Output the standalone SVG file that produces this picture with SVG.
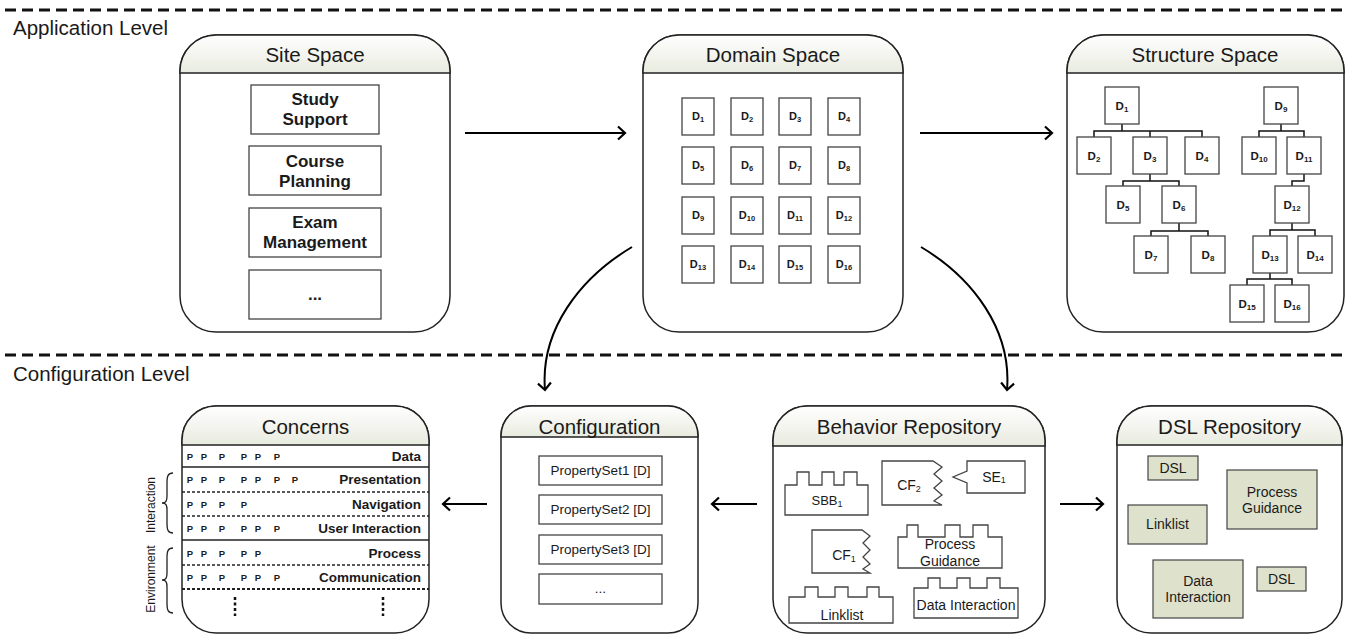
<svg xmlns="http://www.w3.org/2000/svg" width="1347" height="635" viewBox="0 0 1347 635">
<defs>
<linearGradient id="hdr" x1="0" y1="0" x2="0" y2="1"><stop offset="0" stop-color="#ffffff"/><stop offset="1" stop-color="#e8ebdf"/></linearGradient>
<marker id="arr" markerUnits="userSpaceOnUse" markerWidth="12" markerHeight="16" viewBox="0 0 12 16" refX="9" refY="8" orient="auto"><path d="M2,1.5 L9,8 L2,14.5" fill="none" stroke="#000" stroke-width="2.2"/></marker>
</defs>
<style>
text{font-family:"Liberation Sans",Arial,sans-serif;fill:#1a1a1a}
.lvl{font-size:20.5px}
.ttl{font-size:20.5px;text-anchor:middle}
.box{fill:#fff;stroke:#222;stroke-width:1.5}
.hdr{fill:url(#hdr);stroke:#222;stroke-width:1.5}
.ib{fill:#fff;stroke:#444;stroke-width:1.3}
.bt{font-size:17px;font-weight:bold;text-anchor:middle}
.d{font-size:11px;font-weight:bold;text-anchor:middle}
.ds{font-size:11.5px;font-weight:bold;text-anchor:middle}
.rt{font-size:14px;text-anchor:middle}
.p{font-size:9.5px;font-weight:bold;text-anchor:middle}
.lab{font-size:13.5px;font-weight:bold;text-anchor:end}
.side{font-size:12px;text-anchor:middle}
.conn{fill:none;stroke:#000;stroke-width:2.2}
.tree{fill:none;stroke:#111;stroke-width:1.5}
.dsl{fill:#dee2cd;stroke:#444;stroke-width:1.2}
.sol{stroke:#222;stroke-width:1.3}
.dsh{stroke:#222;stroke-width:1.3;stroke-dasharray:3 2}
.lvline{stroke:#111;stroke-width:3;stroke-dasharray:11 6}
.brace{fill:none;stroke:#222;stroke-width:1.3}
</style>

<g id="levels">
<line class="lvline" x1="5" y1="10" x2="1347" y2="10"/>
<line class="lvline" x1="5" y1="355" x2="1347" y2="355"/>
<text class="lvl" x="13" y="35">Application Level</text>
<text class="lvl" x="13" y="381">Configuration Level</text>
</g>

<g id="site-space">
<rect class="box" x="180" y="35" width="270" height="297" rx="36"/>
<path class="hdr" d="M180,73 V71 A36,36 0 0 1 216,35 H414 A36,36 0 0 1 450,71 V73 Z"/>
<text class="ttl" x="315" y="62">Site Space</text>
<rect class="ib" x="251" y="85" width="128" height="49"/>
<text class="bt" x="315" y="105">Study</text><text class="bt" x="315" y="125">Support</text>
<rect class="ib" x="249" y="146" width="132" height="49"/>
<text class="bt" x="315" y="167">Course</text><text class="bt" x="315" y="187">Planning</text>
<rect class="ib" x="249" y="208" width="132" height="49"/>
<text class="bt" x="315" y="228">Exam</text><text class="bt" x="315" y="248">Management</text>
<rect class="ib" x="249" y="270" width="132" height="49"/>
<text class="bt" x="315" y="300">...</text>
</g>

<g id="domain-space">
<rect class="box" x="643" y="35" width="260" height="297" rx="36"/>
<path class="hdr" d="M643,73 V71 A36,36 0 0 1 679,35 H867 A36,36 0 0 1 903,71 V73 Z"/>
<text class="ttl" x="773" y="62">Domain Space</text>
<rect class="ib" x="682" y="98" width="32" height="37"/><text class="d" x="698" y="120">D<tspan font-size="7.5" dy="2">1</tspan></text>
<rect class="ib" x="731" y="98" width="32" height="37"/><text class="d" x="747" y="120">D<tspan font-size="7.5" dy="2">2</tspan></text>
<rect class="ib" x="779" y="98" width="32" height="37"/><text class="d" x="795" y="120">D<tspan font-size="7.5" dy="2">3</tspan></text>
<rect class="ib" x="828" y="98" width="32" height="37"/><text class="d" x="844" y="120">D<tspan font-size="7.5" dy="2">4</tspan></text>
<rect class="ib" x="682" y="147" width="32" height="37"/><text class="d" x="698" y="169">D<tspan font-size="7.5" dy="2">5</tspan></text>
<rect class="ib" x="731" y="147" width="32" height="37"/><text class="d" x="747" y="169">D<tspan font-size="7.5" dy="2">6</tspan></text>
<rect class="ib" x="779" y="147" width="32" height="37"/><text class="d" x="795" y="169">D<tspan font-size="7.5" dy="2">7</tspan></text>
<rect class="ib" x="828" y="147" width="32" height="37"/><text class="d" x="844" y="169">D<tspan font-size="7.5" dy="2">8</tspan></text>
<rect class="ib" x="682" y="197" width="32" height="37"/><text class="d" x="698" y="219">D<tspan font-size="7.5" dy="2">9</tspan></text>
<rect class="ib" x="731" y="197" width="32" height="37"/><text class="d" x="747" y="219">D<tspan font-size="7.5" dy="2">10</tspan></text>
<rect class="ib" x="779" y="197" width="32" height="37"/><text class="d" x="795" y="219">D<tspan font-size="7.5" dy="2">11</tspan></text>
<rect class="ib" x="828" y="197" width="32" height="37"/><text class="d" x="844" y="219">D<tspan font-size="7.5" dy="2">12</tspan></text>
<rect class="ib" x="682" y="246" width="32" height="37"/><text class="d" x="698" y="268">D<tspan font-size="7.5" dy="2">13</tspan></text>
<rect class="ib" x="731" y="246" width="32" height="37"/><text class="d" x="747" y="268">D<tspan font-size="7.5" dy="2">14</tspan></text>
<rect class="ib" x="779" y="246" width="32" height="37"/><text class="d" x="795" y="268">D<tspan font-size="7.5" dy="2">15</tspan></text>
<rect class="ib" x="828" y="246" width="32" height="37"/><text class="d" x="844" y="268">D<tspan font-size="7.5" dy="2">16</tspan></text>
</g>

<g id="structure-space">
<rect class="box" x="1067" y="35" width="277" height="297" rx="36"/>
<path class="hdr" d="M1067,73 V71 A36,36 0 0 1 1103,35 H1308 A36,36 0 0 1 1344,71 V73 Z"/>
<text class="ttl" x="1205" y="62">Structure Space</text>
<path class="tree" d="M1122,124 V131 M1094,137 V131 H1202 V137 M1150,131 V137
 M1150,173 V181 M1123,186 V181 H1179 V186
 M1179,223 V231 M1151,236 V231 H1208 V236
 M1281,124 V131 M1259,137 V131 H1304 V137
 M1304,173 V181 H1292 V186
 M1292,223 V230 M1270,236 V230 H1315 V236
 M1270,273 V279 M1247,285 V279 H1292 V285"/>
<rect class="ib" x="1105" y="87" width="34" height="37"/><text class="ds" x="1122" y="110">D<tspan font-size="8" dy="2">1</tspan></text>
<rect class="ib" x="1077" y="137" width="34" height="37"/><text class="ds" x="1094" y="160">D<tspan font-size="8" dy="2">2</tspan></text>
<rect class="ib" x="1133" y="137" width="34" height="37"/><text class="ds" x="1150" y="160">D<tspan font-size="8" dy="2">3</tspan></text>
<rect class="ib" x="1185" y="137" width="34" height="37"/><text class="ds" x="1202" y="160">D<tspan font-size="8" dy="2">4</tspan></text>
<rect class="ib" x="1106" y="186" width="34" height="37"/><text class="ds" x="1123" y="209">D<tspan font-size="8" dy="2">5</tspan></text>
<rect class="ib" x="1162" y="186" width="34" height="37"/><text class="ds" x="1179" y="209">D<tspan font-size="8" dy="2">6</tspan></text>
<rect class="ib" x="1134" y="236" width="34" height="37"/><text class="ds" x="1151" y="259">D<tspan font-size="8" dy="2">7</tspan></text>
<rect class="ib" x="1191" y="236" width="34" height="37"/><text class="ds" x="1208" y="259">D<tspan font-size="8" dy="2">8</tspan></text>
<rect class="ib" x="1264" y="87" width="34" height="37"/><text class="ds" x="1281" y="110">D<tspan font-size="8" dy="2">9</tspan></text>
<rect class="ib" x="1242" y="137" width="34" height="37"/><text class="ds" x="1259" y="160">D<tspan font-size="8" dy="2">10</tspan></text>
<rect class="ib" x="1287" y="137" width="34" height="37"/><text class="ds" x="1304" y="160">D<tspan font-size="8" dy="2">11</tspan></text>
<rect class="ib" x="1275" y="186" width="34" height="37"/><text class="ds" x="1292" y="209">D<tspan font-size="8" dy="2">12</tspan></text>
<rect class="ib" x="1253" y="236" width="34" height="37"/><text class="ds" x="1270" y="259">D<tspan font-size="8" dy="2">13</tspan></text>
<rect class="ib" x="1298" y="236" width="34" height="37"/><text class="ds" x="1315" y="259">D<tspan font-size="8" dy="2">14</tspan></text>
<rect class="ib" x="1230" y="285" width="34" height="37"/><text class="ds" x="1247" y="308">D<tspan font-size="8" dy="2">15</tspan></text>
<rect class="ib" x="1275" y="285" width="34" height="37"/><text class="ds" x="1292" y="308">D<tspan font-size="8" dy="2">16</tspan></text>
</g>

<g id="concerns">
<rect class="box" x="182" y="406" width="247" height="227" rx="34"/>
<path class="hdr" d="M182,445 V440 A34,34 0 0 1 216,406 H395 A34,34 0 0 1 429,440 V445 Z"/>
<text class="ttl" x="305.5" y="434">Concerns</text>
<line class="sol" x1="182" y1="467" x2="429" y2="467"/>
<line class="dsh" x1="182" y1="492" x2="429" y2="492"/>
<line class="dsh" x1="182" y1="516" x2="429" y2="516"/>
<line class="sol" x1="182" y1="540" x2="429" y2="540"/>
<line class="dsh" x1="182" y1="565" x2="429" y2="565"/>
<line class="dsh" x1="182" y1="589" x2="429" y2="589" style="stroke-width:2"/>
<text class="lab" x="421" y="461">Data</text>
<text class="lab" x="421" y="484">Presentation</text>
<text class="lab" x="421" y="509">Navigation</text>
<text class="lab" x="421" y="533">User Interaction</text>
<text class="lab" x="421" y="558">Process</text>
<text class="lab" x="421" y="582">Communication</text>
<text class="p" y="460"><tspan x="190">P</tspan><tspan x="204">P</tspan><tspan x="222">P</tspan><tspan x="244">P</tspan><tspan x="258">P</tspan><tspan x="277">P</tspan></text>
<text class="p" y="483"><tspan x="190">P</tspan><tspan x="204">P</tspan><tspan x="222">P</tspan><tspan x="244">P</tspan><tspan x="258">P</tspan><tspan x="277">P</tspan><tspan x="295">P</tspan></text>
<text class="p" y="508"><tspan x="190">P</tspan><tspan x="204">P</tspan><tspan x="222">P</tspan><tspan x="244">P</tspan></text>
<text class="p" y="532"><tspan x="190">P</tspan><tspan x="204">P</tspan><tspan x="222">P</tspan><tspan x="244">P</tspan><tspan x="258">P</tspan><tspan x="277">P</tspan></text>
<text class="p" y="557"><tspan x="190">P</tspan><tspan x="204">P</tspan><tspan x="222">P</tspan><tspan x="244">P</tspan><tspan x="258">P</tspan></text>
<text class="p" y="581"><tspan x="190">P</tspan><tspan x="204">P</tspan><tspan x="222">P</tspan><tspan x="244">P</tspan><tspan x="258">P</tspan><tspan x="277">P</tspan></text>
<line x1="235" y1="597" x2="235" y2="616" stroke="#111" stroke-width="2.5" stroke-dasharray="3 2.5"/>
<line x1="383" y1="597" x2="383" y2="616" stroke="#111" stroke-width="2.5" stroke-dasharray="3 2.5"/>
<path class="brace" d="M173,473 C168,473 167,476 167,483 L167,496 C167,501 166,503 162,503 C166,503 167,505 167,510 L167,523 C167,530 168,533 173,533"/>
<path class="brace" d="M173,548 C168,548 167,551 167,558 L167,573 C167,578 166,580 162,580 C166,580 167,582 167,587 L167,603 C167,610 168,613 173,613"/>
<text class="side" transform="translate(155,505) rotate(-90)">Interaction</text>
<text class="side" transform="translate(155,579) rotate(-90)">Environment</text>
</g>

<g id="configuration">
<rect class="box" x="501" y="406" width="197" height="227" rx="30"/>
<path class="hdr" d="M501,437 V436 A30,30 0 0 1 531,406 H668 A30,30 0 0 1 698,436 V437 Z"/>
<text class="ttl" x="599.5" y="434">Configuration</text>
<rect class="ib" x="539" y="456" width="123" height="29"/><text class="rt" x="600.5" y="475" style="font-size:13.5px">PropertySet1 [D]</text>
<rect class="ib" x="539" y="495" width="123" height="29"/><text class="rt" x="600.5" y="514" style="font-size:13.5px">PropertySet2 [D]</text>
<rect class="ib" x="539" y="535" width="123" height="29"/><text class="rt" x="600.5" y="554" style="font-size:13.5px">PropertySet3 [D]</text>
<rect class="ib" x="539" y="574" width="123" height="30"/><text class="rt" x="600.5" y="593" style="font-size:13.5px">...</text>
</g>

<g id="behavior-repository">
<rect class="box" x="773" y="406" width="272" height="227" rx="34"/>
<path class="hdr" d="M773,446 V440 A34,34 0 0 1 807,406 H1011 A34,34 0 0 1 1045,440 V446 Z"/>
<text class="ttl" x="909" y="434">Behavior Repository</text>
<path class="ib" d="M785,485 H797 V472 H809 V485 H822 V472 H834 V485 H844 V472 H857 V485 H868 V515 H785 Z"/>
<text class="rt" x="827" y="505" style="font-size:13px">SBB<tspan font-size="9" dy="2">1</tspan></text>
<path class="ib" d="M882,461 H933 L942,467 L934,474 L942,481 L934,488 L942,495 L934,501 L942,505 H882 Z"/>
<text class="rt" x="909" y="490">CF<tspan font-size="9" dy="2">2</tspan></text>
<path class="ib" d="M967,461 H1025 V493 H967 V483 L953,477 L967,471 Z"/>
<text class="rt" x="994" y="482">SE<tspan font-size="9" dy="1">1</tspan></text>
<path class="ib" d="M812,530 H862 L870,536 L863,543 L870,550 L863,557 L870,564 L863,569 L870,573 H812 Z"/>
<text class="rt" x="844" y="560">CF<tspan font-size="9" dy="2">1</tspan></text>
<path class="ib" d="M898,537 H907 V525 H918 V537 H945 V525 H960 V537 H973 V525 H988 V537 H1002 V568 H898 Z"/>
<text class="rt" x="950" y="549">Process</text>
<text class="rt" x="950" y="566">Guidance</text>
<path class="ib" d="M789,597 H805 V587 H818 V597 H835 V587 H848 V597 H867 V587 H879 V597 H893 V623 H789 Z"/>
<text class="rt" x="842" y="620">Linklist</text>
<path class="ib" d="M914,588 H928 V578 H940 V588 H957 V578 H970 V588 H987 V578 H1000 V588 H1018 V618 H914 Z"/>
<text class="rt" x="966" y="610">Data Interaction</text>
</g>

<g id="dsl-repository">
<rect class="box" x="1117" y="406" width="225" height="227" rx="34"/>
<path class="hdr" d="M1117,445 V440 A34,34 0 0 1 1151,406 H1308 A34,34 0 0 1 1342,440 V445 Z"/>
<text class="ttl" x="1229.5" y="434">DSL Repository</text>
<rect class="dsl" x="1148" y="456" width="50" height="24"/><text class="rt" x="1173" y="473">DSL</text>
<rect class="dsl" x="1227" y="470" width="90" height="59"/><text class="rt" x="1272" y="497">Process</text><text class="rt" x="1272" y="513">Guidance</text>
<rect class="dsl" x="1128" y="505" width="79" height="39"/><text class="rt" x="1167.5" y="529">Linklist</text>
<rect class="dsl" x="1153" y="560" width="90" height="58"/><text class="rt" x="1198" y="586">Data</text><text class="rt" x="1198" y="602">Interaction</text>
<rect class="dsl" x="1257" y="567" width="49" height="24"/><text class="rt" x="1281.5" y="584">DSL</text>
</g>

<g id="connectors">
<line class="conn" x1="465" y1="133" x2="625" y2="133" marker-end="url(#arr)"/>
<line class="conn" x1="920" y1="133" x2="1052" y2="133" marker-end="url(#arr)"/>
<path class="conn" d="M632,247 C580,278 540,330 545,390" marker-end="url(#arr)" style="stroke-width:2"/>
<path class="conn" d="M921,247 C973,278 1012,330 1007,390" marker-end="url(#arr)" style="stroke-width:2"/>
<line class="conn" x1="487" y1="504" x2="443" y2="504" marker-end="url(#arr)"/>
<line class="conn" x1="757" y1="504" x2="712" y2="504" marker-end="url(#arr)"/>
<line class="conn" x1="1060" y1="504" x2="1103" y2="504" marker-end="url(#arr)"/>
</g>
</svg>
